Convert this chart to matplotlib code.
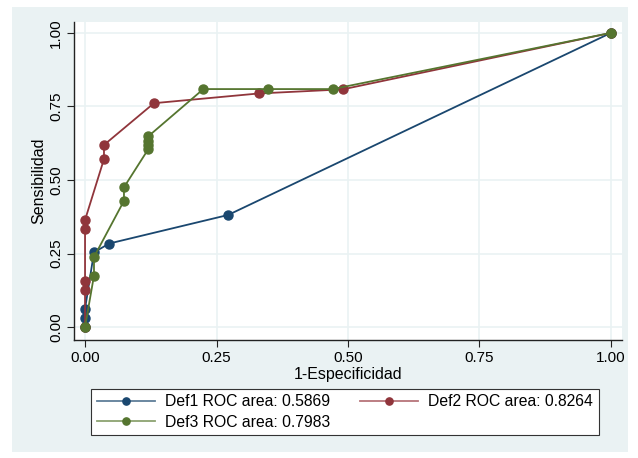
import matplotlib.pyplot as plt
from matplotlib.patches import Rectangle
from matplotlib.lines import Line2D

plt.rcParams['font.family'] = ['Liberation Sans', 'DejaVu Sans']

# Datos de las curvas ROC
def1_x = [0.0, 0.0, 0.0, 0.017, 0.046, 0.272, 1.0]
def1_y = [0.0, 0.030, 0.062, 0.254, 0.284, 0.381, 1.0]

def2_x = [0.0, 0.0, 0.0, 0.0, 0.0, 0.036, 0.036, 0.131, 0.330, 0.490, 1.0]
def2_y = [0.0, 0.126, 0.157, 0.332, 0.364, 0.571, 0.619, 0.761, 0.794, 0.808, 1.0]

def3_x = [0.0, 0.017, 0.017, 0.074, 0.074, 0.120, 0.120, 0.120, 0.120, 0.225, 0.348, 0.471, 1.0]
def3_y = [0.0, 0.175, 0.238, 0.429, 0.475, 0.604, 0.619, 0.634, 0.648, 0.809, 0.809, 0.809, 1.0]

labels = ['Def1 ROC area: 0.5869', 'Def2 ROC area: 0.8264', 'Def3 ROC area: 0.7983']
colors = ['#1A476F', '#90353B', '#55752F']
legend_line_colors = ['#5F7E99', '#B67479', '#8CA271']
ticks = [0, 0.25, 0.5, 0.75, 1.0]
tick_labels = ['0.00', '0.25', '0.50', '0.75', '1.00']

W, H = 638, 458
fig = plt.figure(figsize=(W / 100, H / 100), dpi=100, facecolor='white')
fig.patches.append(Rectangle((12 / W, 1 - 452 / H), 616 / W, 445 / H,
                             transform=fig.transFigure, facecolor='#EAF2F3',
                             edgecolor='none', zorder=-10))

ax = fig.add_axes([74 / W, 1 - 340 / H, 548 / W, 318 / H])
ax.set_facecolor('white')

for xs, ys, c, lab in zip([def1_x, def2_x, def3_x], [def1_y, def2_y, def3_y], colors, labels):
    ax.plot(xs, ys, color=c, marker='o', markersize=6.5, linewidth=1.3, label=lab,
            clip_on=False)

ax.set_xlim(-0.021, 1.021)
ax.set_ylim(-0.044, 1.037)
ax.set_xticks(ticks)
ax.set_xticklabels(tick_labels, fontsize=11)
ax.set_yticks(ticks)
ax.set_yticklabels(tick_labels, fontsize=11, rotation=90, va='center')
ax.grid(color='#EAF2F3', linewidth=1.2)
ax.set_axisbelow(True)
for s in ['top', 'right']:
    ax.spines[s].set_visible(False)
for s in ['left', 'bottom']:
    ax.spines[s].set_color('#222222')
    ax.spines[s].set_linewidth(1.0)
ax.tick_params(direction='out', length=5, color='#222222', pad=3)

ax.set_xlabel('1-Especificidad', fontsize=11.5, labelpad=1)
ax.set_ylabel('Sensibilidad', fontsize=11.5, labelpad=2)

# Leyenda debajo del gráfico (Def1, Def2 en la primera fila; Def3 en la segunda)
handles = [Line2D([], [], color=lc, linewidth=1.3, marker='o', markersize=5.2,
                  markerfacecolor=c, markeredgecolor=c)
           for lc, c in zip(legend_line_colors, colors)]
leg = fig.legend(handles=[handles[0], handles[2], handles[1]],
                 labels=[labels[0], labels[2], labels[1]], ncol=2,
                 loc='center', bbox_to_anchor=(345 / W, 1 - 412 / H),
                 fontsize=11.3, frameon=True, fancybox=False, edgecolor='#333333',
                 framealpha=1, handlelength=3.7, handletextpad=0.65,
                 columnspacing=1.9, labelspacing=0.35, borderpad=0.35)
leg.get_frame().set_linewidth(0.8)

fig.savefig('out.png', dpi=100, facecolor='white')
